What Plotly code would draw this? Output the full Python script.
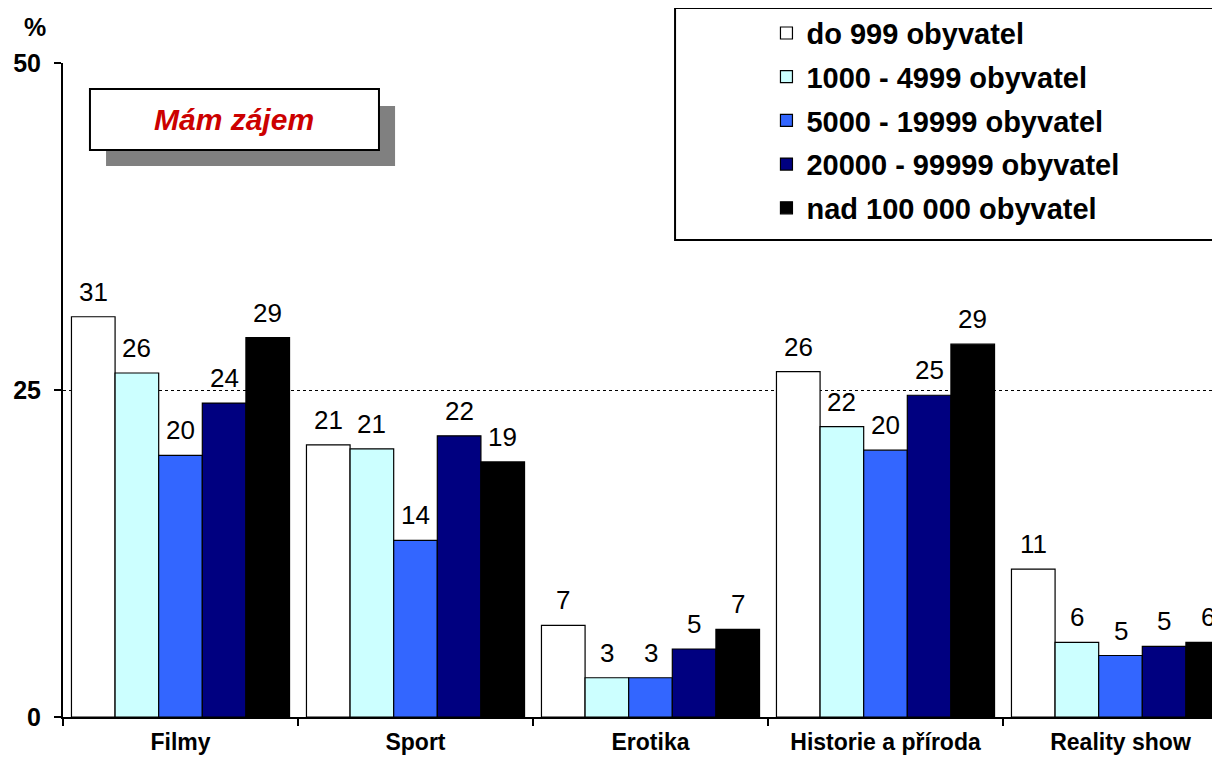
import plotly.graph_objects as go

categories = ["Filmy", "Sport", "Erotika", "Historie a příroda", "Reality show"]
series_names = ["do 999 obyvatel", "1000 - 4999 obyvatel", "5000 - 19999 obyvatel",
                "20000 - 99999 obyvatel", "nad 100 000 obyvatel"]
colors = ["#FFFFFF", "#CCFFFF", "#3366FF", "#000080", "#000000"]

s1 = [30.6, 20.8, 7.0, 26.4, 11.3]
s2 = [26.3, 20.5, 3.0, 22.2, 5.7]
s3 = [20.0, 13.5, 3.0, 20.4, 4.7]
s4 = [24.0, 21.5, 5.2, 24.6, 5.4]
s5 = [29.0, 19.5, 6.7, 28.5, 5.7]
values = [s1, s2, s3, s4, s5]

l1 = [31, 21, 7, 26, 11]
l2 = [26, 21, 3, 22, 6]
l3 = [20, 14, 3, 20, 5]
l4 = [24, 22, 5, 25, 5]
l5 = [29, 19, 7, 29, 6]
labels = [l1, l2, l3, l4, l5]

y_ticks = [0, 25, 50]

FONT = "Arial, Liberation Sans, sans-serif"
BARGAP = 0.072
CAT_PX = 235.0
bar_px = CAT_PX * (1 - BARGAP) / 5

fig = go.Figure()
for name, col, vals in zip(series_names, colors, values):
    fig.add_trace(go.Bar(
        x=categories, y=vals, name=name, legendgroup=name,
        marker=dict(color=col, line=dict(color="black", width=1.2)),
        hoverinfo="skip",
    ))

annotations = []
for j, (vals, labs) in enumerate(zip(values, labels)):
    for c, v, t in zip(categories, vals, labs):
        annotations.append(dict(
            x=c, y=v, xref="x", yref="y", text=str(t), showarrow=False,
            xshift=(j - 2) * bar_px, yshift=25, yanchor="middle",
            font=dict(family=FONT, size=26, color="black"),
        ))

annotations.append(dict(
    x=0.148, y=0.913, xref="paper", yref="paper", text="<b><i>Mám zájem</i></b>",
    showarrow=False, font=dict(family=FONT, size=30, color="#CC0000"),
    xanchor="center", yanchor="middle"))
annotations.append(dict(
    x=-0.024, y=1.055, xref="paper", yref="paper", text="<b>%</b>",
    showarrow=False, font=dict(family=FONT, size=25, color="black"),
    xanchor="center", yanchor="middle"))

shapes = [
    # shadow
    dict(type="rect", xref="paper", yref="paper", x0=0.0372, x1=0.2870, y0=0.8425, y1=0.9343,
         fillcolor="#808080", line=dict(width=0), layer="above"),
    dict(type="rect", xref="paper", yref="paper", x0=0.0233, x1=0.2731, y0=0.867, y1=0.9602,
         fillcolor="white", line=dict(color="black", width=2), layer="above"),
    # legend frame
    dict(type="rect", xref="paper", yref="paper", x0=0.529, x1=0.9985, y0=0.7294, y1=1.0841,
         fillcolor="white", line=dict(color="black", width=2), layer="above"),
]

n_cat = len(categories)
fig.update_layout(
    width=1220, height=765,
    margin=dict(l=55, r=8, t=55, b=56, autoexpand=False),
    paper_bgcolor="white", plot_bgcolor="white",
    barmode="group", bargap=BARGAP, bargroupgap=0,
    font=dict(family=FONT, color="black"),
    showlegend=True,
    legend=dict(x=0.608, y=1.0846, xanchor="left", yanchor="top",
                bgcolor="rgba(0,0,0,0)", borderwidth=0,
                font=dict(family=FONT, size=29, color="black", weight="bold"),
                tracegroupgap=3, itemwidth=30),
    annotations=annotations,
    shapes=shapes,
    xaxis=dict(type="category", range=[-0.5, n_cat - 0.5 - 18 / CAT_PX], automargin=False,
               showline=True, linecolor="black", linewidth=2,
               ticks="outside", tickson="boundaries", ticklen=7, tickcolor="black", tickwidth=1.5,
               tickfont=dict(family=FONT, size=23, color="black", weight="bold"),
               ticklabelstandoff=3,
               showgrid=False, fixedrange=True),
    yaxis=dict(range=[0, 50], tickvals=y_ticks, ticktext=[str(v) for v in y_ticks], automargin=False,
               showline=True, linecolor="black", linewidth=2,
               ticks="outside", ticklen=7, tickcolor="black", tickwidth=1.5,
               tickfont=dict(family=FONT, size=25, color="black", weight="bold"),
               ticklabelstandoff=8,
               showgrid=True, gridcolor="black", gridwidth=1, griddash="dot",
               zeroline=False, fixedrange=True),
)

fig.write_html("out.html")
